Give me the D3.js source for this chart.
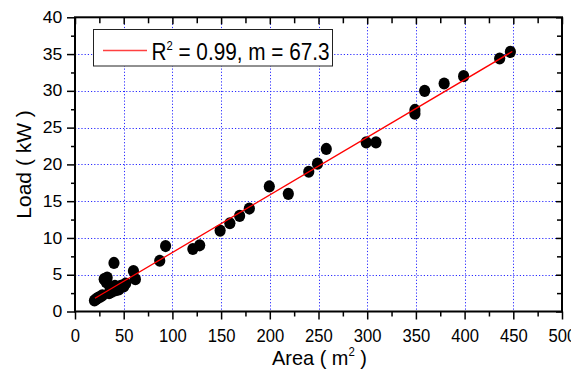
<!DOCTYPE html>
<html><head><meta charset="utf-8">
<script src="https://cdn.jsdelivr.net/npm/d3@7"></script>
<style>body{margin:0;background:#fff;}svg{display:block;font-family:"Liberation Sans",Arial,sans-serif;}</style>
</head><body>
<script>
const areaValues = [20,22,24,26,28,30,33,32,35,36,38,40,41,42,45,47,50,52,60,62,87,93,121,128,149,159,169,179,199.5,219,240,249,258,299,309,349,349,359,379,399,436,447];
const loadValues = [1.5,1.7,1.9,2.0,2.2,4.4,4.6,4.0,2.5,3.3,2.7,6.6,3.5,2.9,3.0,3.5,3.4,3.8,5.5,4.4,6.9,8.9,8.5,9.0,11.0,12.0,13.0,14.0,17.0,16.0,19.0,20.1,22.1,23.0,23.0,27.4,26.9,30.0,31.0,32.0,34.4,35.3];
const fitX = [20.5, 449];
const fitY = [1.8, 35.35];
const xTicks = [0,50,100,150,200,250,300,350,400,450,500];
const yTicks = [0,5,10,15,20,25,30,35,40];
const legendText = ["R", "2", " = 0.99, m = 67.3"];

const W = 582, H = 371;
const svg = d3.select("body").append("svg").attr("width", 571).attr("height", H);
const L = 75, R = 562, T = 17.3, B = 311.5;
const x = d3.scaleLinear().domain([0,500]).range([L,R]);
const y = d3.scaleLinear().domain([0,40]).range([B,T]);

// grid
const grid = svg.append("g").attr("stroke","#2b2bff").attr("stroke-width",1).attr("stroke-dasharray","1.2,2");
grid.selectAll("line.gx").data(xTicks.filter(d=>d>0&&d<500)).enter().append("line")
  .attr("x1",d=>Math.round(x(d))+0.5).attr("x2",d=>Math.round(x(d))+0.5).attr("y1",T).attr("y2",B);
grid.selectAll("line.gy").data(yTicks.filter(d=>d>0&&d<40)).enter().append("line")
  .attr("y1",d=>Math.round(y(d))+0.5).attr("y2",d=>Math.round(y(d))+0.5).attr("x1",L).attr("x2",R);

// minor ticks
const xMinor = d3.range(25,500,50);
const yMinor = d3.range(2.5,40,5);

function styleAxis(g){ g.select(".domain").remove(); g.selectAll("line").attr("stroke","#000").attr("stroke-width",1.5); }

// bottom
const gb = svg.append("g").attr("transform",`translate(0,${B})`).call(d3.axisBottom(x).tickValues(xTicks).tickSize(8).tickFormat(d3.format("d")));
styleAxis(gb);
gb.selectAll("text").attr("dy",null).attr("y",31).attr("font-size",18.5).attr("fill","#000").attr("transform","scale(0.9,1)");
svg.append("g").attr("transform",`translate(0,${B})`).call(d3.axisBottom(x).tickValues(xMinor).tickSize(5).tickFormat("")).call(styleAxis);
// top
svg.append("g").attr("transform",`translate(0,${T})`).call(d3.axisBottom(x).tickValues(xTicks).tickSize(7).tickFormat("")).call(styleAxis);
svg.append("g").attr("transform",`translate(0,${T})`).call(d3.axisBottom(x).tickValues(xMinor).tickSize(6).tickFormat("")).call(styleAxis);
// left
const gl = svg.append("g").attr("transform",`translate(${L},0)`).call(d3.axisLeft(y).tickValues(yTicks).tickSize(8).tickFormat(d3.format("d")));
styleAxis(gl);
gl.selectAll("text").attr("x",-11.5).attr("font-size",16).attr("fill","#000").attr("transform","scale(1.1,1)");
svg.append("g").attr("transform",`translate(${L},0)`).call(d3.axisLeft(y).tickValues(yMinor).tickSize(4).tickFormat("")).call(styleAxis);
// right
svg.append("g").attr("transform",`translate(${R},0)`).call(d3.axisLeft(y).tickValues(yTicks).tickSize(6).tickFormat("")).call(styleAxis);
svg.append("g").attr("transform",`translate(${R},0)`).call(d3.axisLeft(y).tickValues(yMinor).tickSize(5).tickFormat("")).call(styleAxis);

// frame
svg.append("rect").attr("x",L).attr("y",T).attr("width",R-L).attr("height",B-T)
  .attr("fill","none").attr("stroke","#000").attr("stroke-width",2);

// points
const pts = areaValues.map((a,i)=>({a, l: loadValues[i]}));
svg.append("g").selectAll("ellipse").data(pts).enter().append("ellipse")
  .attr("cx",d=>x(d.a)).attr("cy",d=>y(d.l)).attr("rx",5.6).attr("ry",6.1).attr("fill","#000");

// fit line
svg.append("line").attr("x1",x(fitX[0])).attr("y1",y(fitY[0])).attr("x2",x(fitX[1])).attr("y2",y(fitY[1]))
  .attr("stroke","#ff0000").attr("stroke-width",1.3);

// legend
const lg = svg.append("g");
lg.append("rect").attr("x",93.5).attr("y",29.5).attr("width",239).attr("height",36.5)
  .attr("fill","#fff").attr("stroke","#222").attr("stroke-width",1);
lg.append("line").attr("x1",103).attr("x2",147).attr("y1",50.5).attr("y2",50.5).attr("stroke","#ff4040").attr("stroke-width",1.3);
const lt = lg.append("text").attr("x",151.5).attr("y",60).attr("font-size",24).attr("fill","#000")
  .attr("textLength",178).attr("lengthAdjust","spacingAndGlyphs");
lt.append("tspan").text(legendText[0]);
lt.append("tspan").attr("font-size",13).attr("dy",-10).text(legendText[1]);
lt.append("tspan").attr("dy",10).text(legendText[2]);

// axis titles
const xt = svg.append("text").attr("x",272).attr("y",365).attr("font-size",21).attr("fill","#000")
  .attr("textLength",95).attr("lengthAdjust","spacingAndGlyphs");
xt.append("tspan").text("Area ( m");
xt.append("tspan").attr("font-size",12).attr("dy",-9).text("2");
xt.append("tspan").attr("dy",9).text(" )");

svg.append("text").attr("transform",`translate(31,${(T+B)/2}) rotate(-90)`).attr("text-anchor","middle")
  .attr("font-size",21).attr("fill","#000").text("Load ( kW )");
</script>
</body></html>
